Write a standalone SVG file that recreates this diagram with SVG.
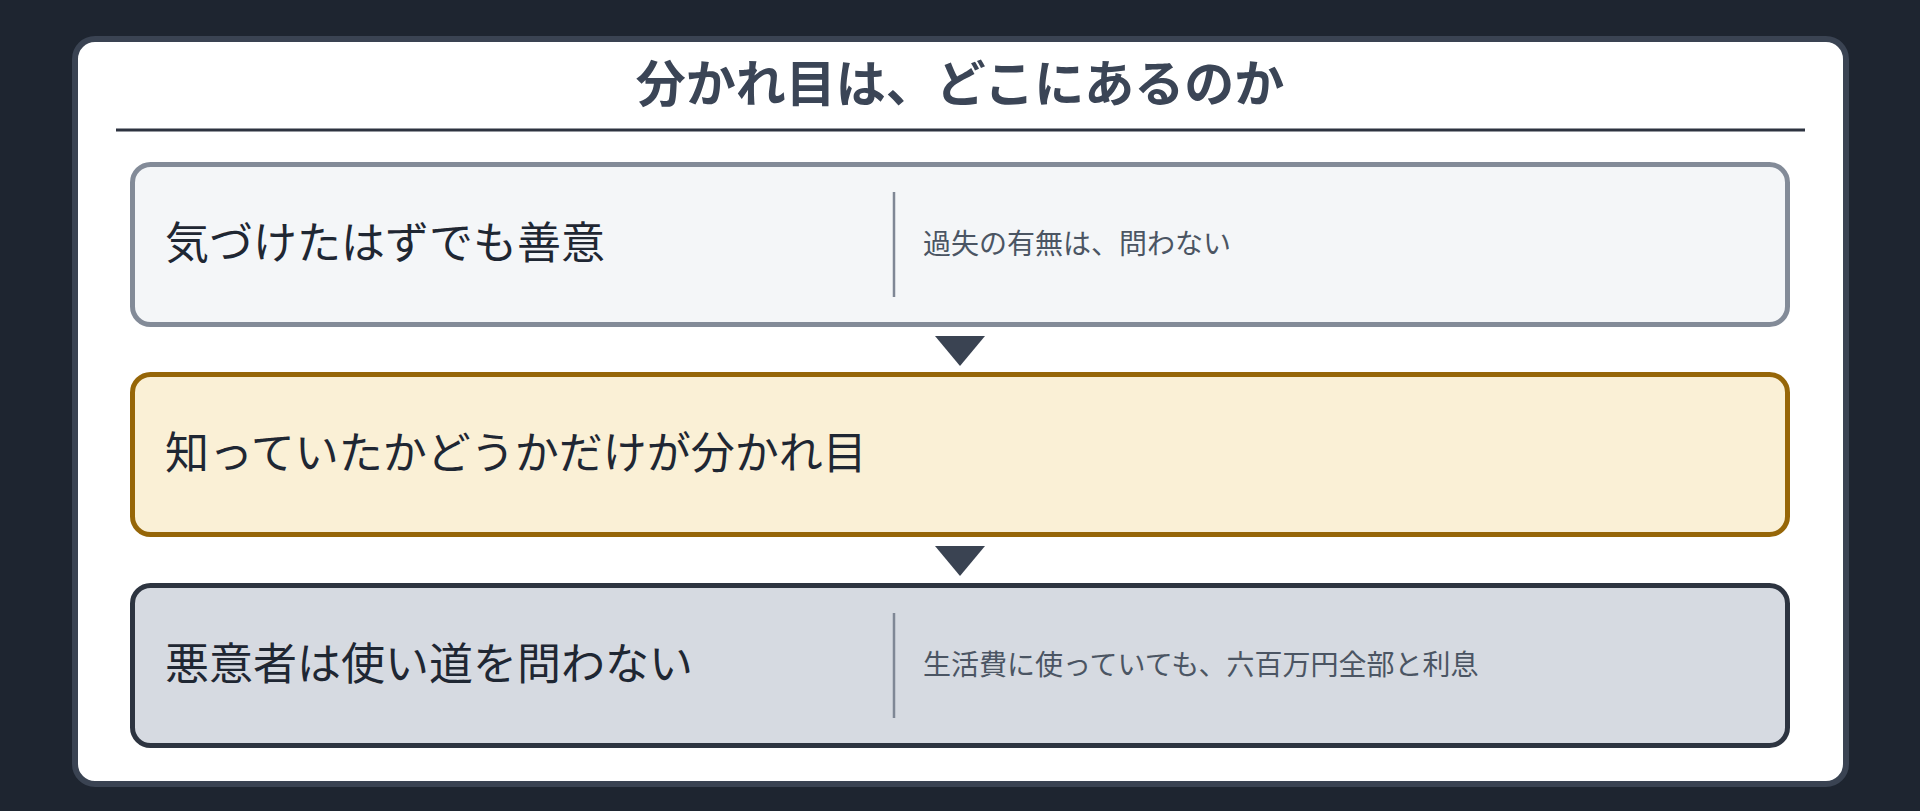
<svg xmlns="http://www.w3.org/2000/svg" width="1920" height="811" viewBox="0 0 1920 811">
  <style>
    .jp { font-family: "Noto Sans CJK JP", "Noto Sans", sans-serif; }
    .title { font-size: 50px; font-weight: 700; fill: #3b4556; }
    .main { font-size: 44px; fill: #1f2733; }
    .sub { font-size: 28px; fill: #4b5563; }
    .div { stroke: #7f8795; stroke-width: 2.5; }
    .arrow { fill: #3a4352; }
  </style>
  <rect x="0" y="0" width="1920" height="811" fill="#1e2530"/>
  <g id="card">
    <rect x="75" y="39" width="1771" height="745" rx="20" fill="#ffffff" stroke="#3a4352" stroke-width="6"/>
  </g>
  <g id="title">
    <text class="jp title" x="960" y="102" text-anchor="middle">分かれ目は、どこにあるのか</text>
    <line x1="116" y1="130" x2="1805" y2="130" stroke="#2d3340" stroke-width="3"/>
  </g>
  <g id="node1">
    <rect x="132.5" y="164.5" width="1655" height="160" rx="18" fill="#f4f6f8" stroke="#838b98" stroke-width="5"/>
    <text class="jp main" x="165" y="259">気づけたはずでも善意</text>
    <line class="div" x1="894" y1="192" x2="894" y2="297"/>
    <text class="jp sub" x="923" y="254">過失の有無は、問わない</text>
  </g>
  <g id="node2">
    <rect x="132.5" y="374.5" width="1655" height="160" rx="18" fill="#faf0d6" stroke="#966608" stroke-width="5"/>
    <text class="jp main" x="165" y="469">知っていたかどうかだけが分かれ目</text>
  </g>
  <g id="node3">
    <rect x="132.5" y="585.5" width="1655" height="160" rx="18" fill="#d6dae1" stroke="#2d3440" stroke-width="5"/>
    <text class="jp main" x="165" y="680">悪意者は使い道を問わない</text>
    <line class="div" x1="894" y1="613" x2="894" y2="718"/>
    <text class="jp sub" x="923" y="675">生活費に使っていても、六百万円全部と利息</text>
  </g>
  <g id="connectors">
    <polygon class="arrow" points="935,336 985,336 960,366"/>
    <polygon class="arrow" points="935,546 985,546 960,576"/>
  </g>
</svg>
